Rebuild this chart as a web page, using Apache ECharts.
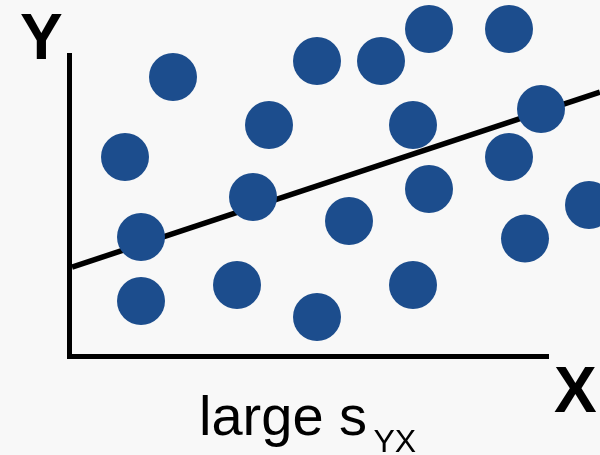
<!DOCTYPE html>
<html>
<head>
<meta charset="utf-8">
<script src="https://cdn.jsdelivr.net/npm/echarts@6/dist/echarts.min.js"></script>
<style>
  html, body { margin: 0; padding: 0; background: #f8f8f8; }
  #chart { width: 600px; height: 455px; }
</style>
</head>
<body>
<div id="chart"></div>
<script>
// scatter points (x, y) in plot units
const pointX = [3, 0, 1, 1, 7, 8, 9, 12, 12, 14, 16, 18, 18, 19, 19, 24, 24, 26, 25, 29];
const pointY = [15, 10, 5, 1, 2, 7.5, 12, 16, 0, 6, 16, 12, 2, 18, 8, 18, 10, 13, 4.9, 7];

// fitted line, start and end
const fitX = [-3.31, 29.68];
const fitY = [3.12, 14.06];

const axisNameY = 'Y';
const axisNameX = 'X';
const caption = 'large s';
const captionSub = 'YX';

const font = "'Liberation Sans', Arial, sans-serif";
const chart = echarts.init(document.getElementById('chart'));

const hidden = { show: false };
const axisStyle = {
  show: true,
  onZero: false,
  lineStyle: { color: '#000', width: 5, cap: 'square' }
};

chart.setOption({
  backgroundColor: '#f8f8f8',
  animation: false,
  // grid 0: the black axis frame, grid 1: the data (whole canvas, so the fit line can run off the edge)
  grid: [
    { left: 69.5, right: 53.5, top: 55.5, bottom: 98.5 },
    { left: 0, right: 0, top: 0, bottom: 0 }
  ],
  xAxis: [
    { gridIndex: 0, type: 'value', min: 0, max: 1, axisLine: axisStyle, axisTick: hidden, axisLabel: hidden, splitLine: hidden },
    { gridIndex: 1, type: 'value', min: -7.8125, max: 29.6875, axisLine: hidden, axisTick: hidden, axisLabel: hidden, splitLine: hidden }
  ],
  yAxis: [
    { gridIndex: 0, type: 'value', min: 0, max: 1, axisLine: axisStyle, axisTick: hidden, axisLabel: hidden, splitLine: hidden },
    { gridIndex: 1, type: 'value', min: -8.625, max: 19.8125, axisLine: hidden, axisTick: hidden, axisLabel: hidden, splitLine: hidden }
  ],
  series: [
    {
      type: 'line',
      xAxisIndex: 1,
      yAxisIndex: 1,
      symbol: 'none',
      z: 1,
      lineStyle: { color: '#000', width: 5.5 },
      data: fitX.map((x, i) => [x, fitY[i]])
    },
    {
      type: 'scatter',
      xAxisIndex: 1,
      yAxisIndex: 1,
      symbolSize: 48,
      z: 3,
      itemStyle: { color: '#1c4d8d', opacity: 1 },
      data: pointX.map((x, i) => [x, pointY[i]])
    }
  ],
  graphic: [
    {
      type: 'text', x: 20, y: 41.5,
      style: { text: axisNameY, font: 'bold 64px ' + font, fill: '#000', verticalAlign: 'middle' }
    },
    {
      type: 'text', x: 554, y: 394.5,
      style: { text: axisNameX, font: 'bold 64px ' + font, fill: '#000', verticalAlign: 'middle' }
    },
    {
      type: 'text', x: 199, y: 419.6,
      style: { text: caption, font: '56px ' + font, fill: '#000', verticalAlign: 'middle' }
    },
    {
      type: 'text', x: 373.5, y: 442.8,
      style: { text: captionSub, font: '32px ' + font, fill: '#000', verticalAlign: 'middle' }
    }
  ]
});
</script>
</body>
</html>
